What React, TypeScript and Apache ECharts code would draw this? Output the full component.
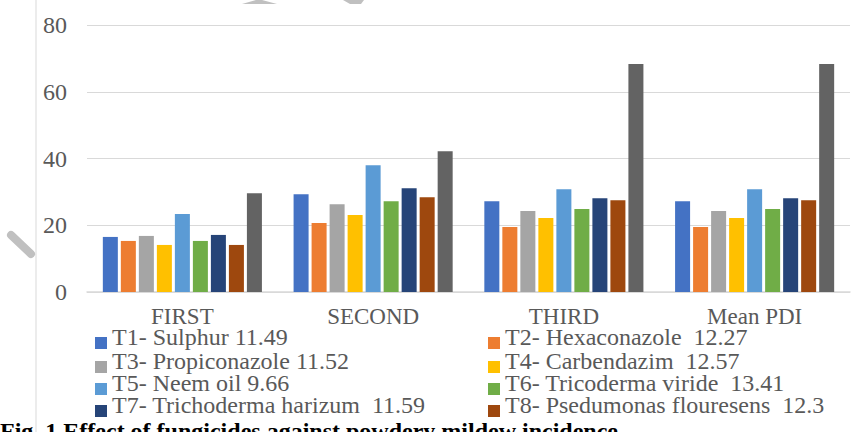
import React, { useEffect, useRef } from "react";
import * as echarts from "echarts";

const categories = ["FIRST", "SECOND", "THIRD", "Mean PDI"];
const seriesNames = [
  "T1- Sulphur 11.49",
  "T2- Hexaconazole \u00a012.27",
  "T3- Propiconazole 11.52",
  "T4- Carbendazim \u00a012.57",
  "T5- Neem oil 9.66",
  "T6- Tricoderma viride \u00a013.41",
  "T7- Trichoderma harizum \u00a011.59",
  "T8- Psedumonas flouresens \u00a012.3",
  "T9- Control",
];
const seriesColors = ["#4472C4", "#ED7D31", "#A5A5A5", "#FFC000", "#5B9BD5", "#70AD47", "#264478", "#9E480E", "#636363"];
const t1 = [16.5, 29.3, 27.2, 27.2];
const t2 = [15.3, 20.7, 19.5, 19.5];
const t3 = [16.8, 26.3, 24.3, 24.3];
const t4 = [14.1, 23.1, 22.2, 22.2];
const t5 = [23.4, 38.0, 30.8, 30.8];
const t6 = [15.3, 27.2, 24.9, 24.9];
const t7 = [17.1, 31.1, 28.1, 28.1];
const t8 = [14.1, 28.4, 27.5, 27.5];
const t9 = [29.6, 42.2, 68.3, 68.3];
const seriesValues = [t1, t2, t3, t4, t5, t6, t7, t8, t9];
const legendNames = seriesNames.slice(0, 8);
const captionText = "Fig. 1 Effect of fungicides against powdery mildew incidence";

const serif = "'Liberation Serif', 'Times New Roman', serif";

export default function App() {
  const ref = useRef<HTMLDivElement>(null);
  useEffect(() => {
    if (!ref.current) return;
    const chart = echarts.init(ref.current, null, { renderer: "svg" });
    const rowTops = [325, 349, 371, 393];
    const colLefts = [95, 488];
    const legends = legendNames.map((name, i) => ({
      orient: "vertical",
      icon: "path://M0,0 M0,12 L12,12 L12,24 L0,24 Z",
      itemWidth: 12,
      itemHeight: 24,
      itemGap: 0,
      padding: 0,
      selectedMode: false,
      left: colLefts[i % 2],
      top: rowTops[Math.floor(i / 2)],
      data: [name],
      textStyle: { fontFamily: serif, fontSize: 24, color: "#595959", overflow: "none" },
    }));
    chart.setOption({
      animation: false,
      backgroundColor: "#ffffff",
      grid: { left: 87, right: 9, top: 25, bottom: 140, containLabel: false },
      legend: legends,
      xAxis: {
        type: "category",
        data: categories,
        axisLine: { lineStyle: { color: "#d9d9d9", width: 1.5 } },
        axisTick: { show: false },
        axisLabel: { fontFamily: serif, fontSize: 23, color: "#595959", margin: 13 },
      },
      yAxis: {
        type: "value",
        min: 0,
        max: 80,
        interval: 20,
        axisLine: { show: false },
        axisTick: { show: false },
        splitLine: { lineStyle: { color: "#d9d9d9", width: 1.2 } },
        axisLabel: { fontFamily: serif, fontSize: 24, color: "#595959", margin: 20 },
      },
      series: seriesValues.map((vals, i) => ({
        name: seriesNames[i],
        type: "bar",
        data: vals,
        barGap: "20%",
        barCategoryGap: "16.6%",
        itemStyle: { color: seriesColors[i] },
      })),
      graphic: [
        { type: "line", z: -1, shape: { x1: 36, y1: 0, x2: 36, y2: 432 }, style: { stroke: "#d9d9d9", lineWidth: 1 } },
        { type: "line", shape: { x1: 11, y1: 235, x2: 31, y2: 254 }, style: { stroke: "#c0c0c0", lineWidth: 8, lineCap: "round" } },
        { type: "polygon", shape: { points: [[242, 4], [256, 0], [262, 0], [277, 4]] }, style: { fill: "#c0c0c0" } },
        { type: "polygon", shape: { points: [[343, 0], [364, 0], [361, 4], [350, 4]] }, style: { fill: "#c0c0c0" } },
        {
          type: "text",
          left: 0,
          top: 419,
          style: { text: captionText, font: `bold 24px ${serif}`, fill: "#000000" },
        },
      ],
    });
    return () => chart.dispose();
  }, []);
  return <div ref={ref} style={{ position: "fixed", left: 0, top: 0, width: 859, height: 432 }} />;
}
